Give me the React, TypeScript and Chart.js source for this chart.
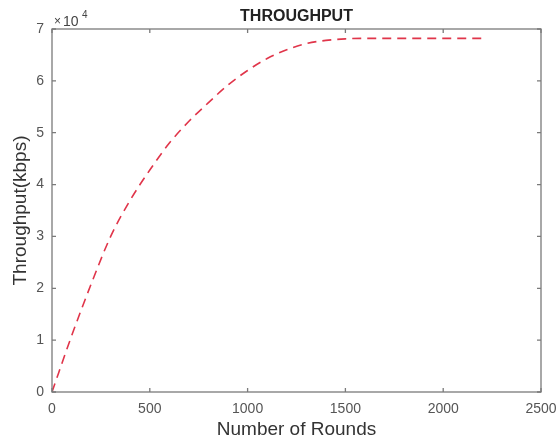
import React, { useEffect, useRef } from "react";
import { Chart, registerables } from "chart.js";

Chart.register(...registerables);

const rounds = [0, 100, 200, 300, 400, 500, 600, 700, 800, 900, 1000, 1100, 1200, 1300, 1400, 1500, 1600, 1700, 1800, 1900, 2000, 2100, 2200];
const throughput = [0, 10800, 20800, 30000, 37000, 42800, 48000, 52200, 55800, 59200, 62000, 64300, 66000, 67200, 67800, 68100, 68200, 68200, 68200, 68200, 68200, 68200, 68200];
const xTicks = [0, 500, 1000, 1500, 2000, 2500];
const yTicks = [0, 10000, 20000, 30000, 40000, 50000, 60000, 70000];
const chartTitle = "THROUGHPUT";
const xTitle = "Number of Rounds";
const yTitle = "Throughput(kbps)";

const FONT = "'Liberation Sans', Arial, sans-serif";

const framePlugin = {
  id: "matlabFrame",
  afterDraw(chart: any) {
    const { ctx, chartArea } = chart;
    const { left, right, top, bottom } = chartArea;
    const xs = chart.scales.x;
    const ys = chart.scales.y;
    ctx.save();
    ctx.strokeStyle = "#7a7a7a";
    ctx.lineWidth = 1.3;
    ctx.strokeRect(left, top, right - left, bottom - top);
    ctx.beginPath();
    const tl = 4;
    xTicks.forEach((v) => {
      const px = xs.getPixelForValue(v);
      ctx.moveTo(px, bottom);
      ctx.lineTo(px, bottom - tl);
      ctx.moveTo(px, top);
      ctx.lineTo(px, top + tl);
    });
    yTicks.forEach((v) => {
      const py = ys.getPixelForValue(v);
      ctx.moveTo(left, py);
      ctx.lineTo(left + tl, py);
      ctx.moveTo(right, py);
      ctx.lineTo(right - tl, py);
    });
    ctx.stroke();
    // title
    ctx.fillStyle = "#222";
    ctx.font = `bold 16px ${FONT}`;
    ctx.textAlign = "center";
    ctx.textBaseline = "alphabetic";
    ctx.fillText(chartTitle, (left + right) / 2, 21);
    // exponent
    ctx.fillStyle = "#444";
    ctx.textAlign = "left";
    ctx.font = `12px ${FONT}`;
    ctx.fillText("\u00d7", left + 2, 25);
    ctx.font = `14px ${FONT}`;
    ctx.fillText("10", left + 11, 26);
    ctx.font = `10px ${FONT}`;
    ctx.fillText("4", left + 30, 18);
    ctx.restore();
  },
};

export default function App() {
  const ref = useRef<HTMLCanvasElement>(null);
  useEffect(() => {
    if (!ref.current) return;
    const chart = new Chart(ref.current, {
      type: "line",
      data: {
        datasets: [
          {
            data: rounds.map((r, i) => ({ x: r, y: throughput[i] })),
            borderColor: "#e0354a",
            borderWidth: 1.6,
            borderDash: [9, 6],
            pointRadius: 0,
            fill: false,
            cubicInterpolationMode: "monotone",
          },
        ],
      },
      options: {
        animation: false,
        responsive: false,
        maintainAspectRatio: false,
        layout: { padding: { left: 0, right: 17, top: 29, bottom: 0 } },
        plugins: { legend: { display: false }, tooltip: { enabled: false }, title: { display: false } },
        scales: {
          x: {
            type: "linear",
            min: 0,
            max: 2500,
            afterFit: (s: any) => {
              s.height = 52;
              s.paddingLeft = 0;
              s.paddingRight = 0;
            },
            afterBuildTicks: (s: any) => {
              s.ticks = xTicks.map((v) => ({ value: v }));
            },
            grid: { display: false, drawTicks: false },
            border: { display: false },
            ticks: {
              color: "#555",
              font: { family: FONT, size: 14 },
              padding: 9,
              maxRotation: 0,
              callback: (v: any) => String(v),
            },
            title: { display: true, text: xTitle, color: "#333", font: { family: FONT, size: 19 }, padding: { top: 0, bottom: 3 } },
          },
          y: {
            type: "linear",
            min: 0,
            max: 70000,
            afterFit: (s: any) => {
              s.width = 52;
              s.paddingTop = 0;
              s.paddingBottom = 0;
            },
            afterBuildTicks: (s: any) => {
              s.ticks = yTicks.map((v) => ({ value: v }));
            },
            grid: { display: false, drawTicks: false },
            border: { display: false },
            ticks: {
              color: "#555",
              font: { family: FONT, size: 14 },
              padding: 8,
              callback: (v: any) => String(Number(v) / 10000),
            },
            title: { display: true, text: yTitle, color: "#333", font: { family: FONT, size: 19 }, padding: { top: 9, bottom: 0 } },
          },
        },
      },
      plugins: [framePlugin],
    } as any);
    return () => chart.destroy();
  }, []);
  return (
    <div style={{ position: "absolute", left: 0, top: 0, width: 558, height: 444, background: "#fff" }}>
      <canvas ref={ref} width={558} height={444} style={{ width: 558, height: 444 }} />
    </div>
  );
}
